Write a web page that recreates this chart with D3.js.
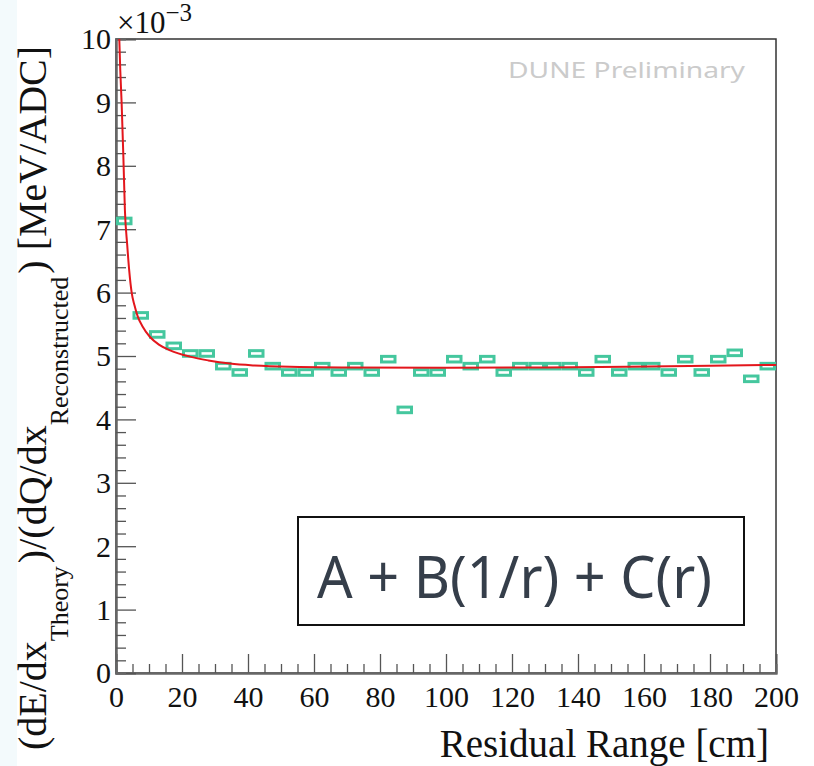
<!DOCTYPE html>
<html><head><meta charset="utf-8">
<script src="https://cdn.jsdelivr.net/npm/d3@7/dist/d3.min.js"></script>
<style>html,body{margin:0;padding:0;background:#fff}svg{display:block}</style>
</head><body>
<svg id="c" width="814" height="766"></svg>
<script>
// ---- data (values in units of 10^-3 MeV/ADC) ----
const binCenters = [2.5,7.5,12.5,17.5,22.5,27.5,32.5,37.5,42.5,47.5,52.5,57.5,62.5,67.5,72.5,77.5,82.5,87.5,92.5,97.5,
  102.5,107.5,112.5,117.5,122.5,127.5,132.5,137.5,142.5,147.5,152.5,157.5,162.5,167.5,172.5,177.5,182.5,187.5,192.5,197.5];
const binValues = [7.13,5.64,5.34,5.16,5.04,5.04,4.84,4.74,5.04,4.84,4.74,4.74,4.84,4.74,4.84,4.74,4.95,4.15,4.74,4.74,
  4.95,4.84,4.95,4.74,4.84,4.84,4.84,4.84,4.74,4.95,4.74,4.84,4.84,4.74,4.95,4.74,4.95,5.05,4.64,4.84];
const binWidth = 5;
const fitR = [1.0,1.3,1.7,2.2,2.7,3.4,4.0,4.75,5.6,6.6,8,10.3,13,16.4,22.4,28,34.5,42,52.7,70,100,130,155,180,200];
const fitV = [10.0,9.5,9.0,8.2,7.3,6.75,6.35,6.0,5.8,5.62,5.47,5.30,5.18,5.09,4.99,4.93,4.88,4.85,4.83,4.82,4.815,4.82,4.83,4.845,4.86];
const xTicks = [0,20,40,60,80,100,120,140,160,180,200];
const xMinor = d3.range(0,201,5).filter(v => v % 20 !== 0);
const yTicks = [0,1,2,3,4,5,6,7,8,9,10];
const yMinor = d3.range(0,10.01,0.2).map(v => +v.toFixed(1)).filter(v => Math.abs(v - Math.round(v)) > 1e-6);
const xTitle = "Residual Range [cm]";
const yTitleParts = [["(dE/dx",false],["Theory",true],[")/(dQ/dx",false],["Reconstructed",true],[") [MeV/ADC]",false]];
const legendText = "A + B(1/r) + C(r)";
const watermark = "DUNE Preliminary";

const svg = d3.select("#c");
const serif = "'Liberation Serif','Times New Roman',serif";
svg.append("rect").attr("x",0).attr("y",0).attr("width",17).attr("height",766).attr("fill","#f3fafc");

const x = d3.scaleLinear().domain([0,200]).range([116,776]);
const y = d3.scaleLinear().domain([0,10]).range([673,39]);

// frame
svg.append("rect").attr("x",116).attr("y",39).attr("width",660).attr("height",634)
  .attr("fill","none").attr("stroke","#333").attr("stroke-width",1.5);

// x axis
const gx = svg.append("g").attr("transform","translate(0,673)");
gx.call(d3.axisBottom(x).tickValues(xTicks).tickSize(-19).tickPadding(13).tickFormat(d3.format("d")));
const gxm = svg.append("g").attr("transform","translate(0,673)");
gxm.call(d3.axisBottom(x).tickValues(xMinor).tickSize(-9).tickFormat(""));
// y axis
const gy = svg.append("g").attr("transform","translate(116,0)");
gy.call(d3.axisLeft(y).tickValues(yTicks).tickSize(-20).tickPadding(5).tickFormat(d3.format("d")));
const gym = svg.append("g").attr("transform","translate(116,0)");
gym.call(d3.axisLeft(y).tickValues(yMinor).tickSize(-10).tickFormat(""));
[gx,gxm,gy,gym].forEach(g => {
  g.select(".domain").attr("stroke","#666").attr("stroke-width",2);
  g.selectAll(".tick line").attr("stroke","#555").attr("stroke-width",1.3);
  g.selectAll(".tick text").attr("fill","#111").style("font-family",serif).style("font-size","30px");
});
gy.selectAll(".tick text").attr("dy","0.33em");

// exponent
const ex = svg.append("text").attr("x",117).attr("y",33).attr("fill","#111").style("font-family",serif).style("font-size","31px");
ex.append("tspan").text("\u00d710");
ex.append("tspan").attr("dy",-12).style("font-size","25px").text("\u22123");

// markers
svg.append("g").selectAll("rect").data(binValues).join("rect")
  .attr("x",(d,i) => x(binCenters[i] - binWidth/2) + 1.5)
  .attr("width", x(binWidth) - x(0) - 3)
  .attr("y", d => y(d) - 2.8)
  .attr("height", 5.6)
  .attr("fill","none").attr("stroke","#45c79e").attr("stroke-width",3);

// fit line
const line = d3.line().x((d,i) => x(fitR[i])).y(d => y(d)).curve(d3.curveMonotoneX);
svg.append("path").attr("d", line(fitV)).attr("fill","none").attr("stroke","#e3161c").attr("stroke-width",2);

// watermark
svg.append("text").attr("x",508).attr("y",78).attr("fill","#cbcbcb")
  .style("font-family","'Source Sans Pro','Noto Sans','Open Sans',sans-serif").style("font-size","22px")
  .attr("textLength",237).attr("lengthAdjust","spacingAndGlyphs").text(watermark);

// legend box
svg.append("rect").attr("x",298).attr("y",517).attr("width",446).attr("height",108)
  .attr("fill","#fff").attr("stroke","#111").attr("stroke-width",2);
svg.append("text").attr("x",317).attr("y",598).attr("fill","#353e4a")
  .style("font-family","'Source Sans Pro','Noto Sans','Open Sans',sans-serif").style("font-size","58px")
  .attr("textLength",395).attr("lengthAdjust","spacingAndGlyphs").text(legendText);

// x title
svg.append("text").attr("x",769).attr("y",757).attr("text-anchor","end").attr("fill","#111")
  .style("font-family",serif).style("font-size","39px").text(xTitle);

// y title
const yt = svg.append("text").attr("transform","translate(46,398) rotate(-90)").attr("text-anchor","middle")
  .attr("fill","#111").style("font-family",serif).style("font-size","40px");
let prevSub = false;
yTitleParts.forEach(([t,sub]) => {
  const ts = yt.append("tspan").text(t);
  if (sub) { ts.attr("dy",22).style("font-size","26px"); }
  else if (prevSub) { ts.attr("dy",-22).attr("dx",3); }
  prevSub = sub;
});
</script>
</body></html>
